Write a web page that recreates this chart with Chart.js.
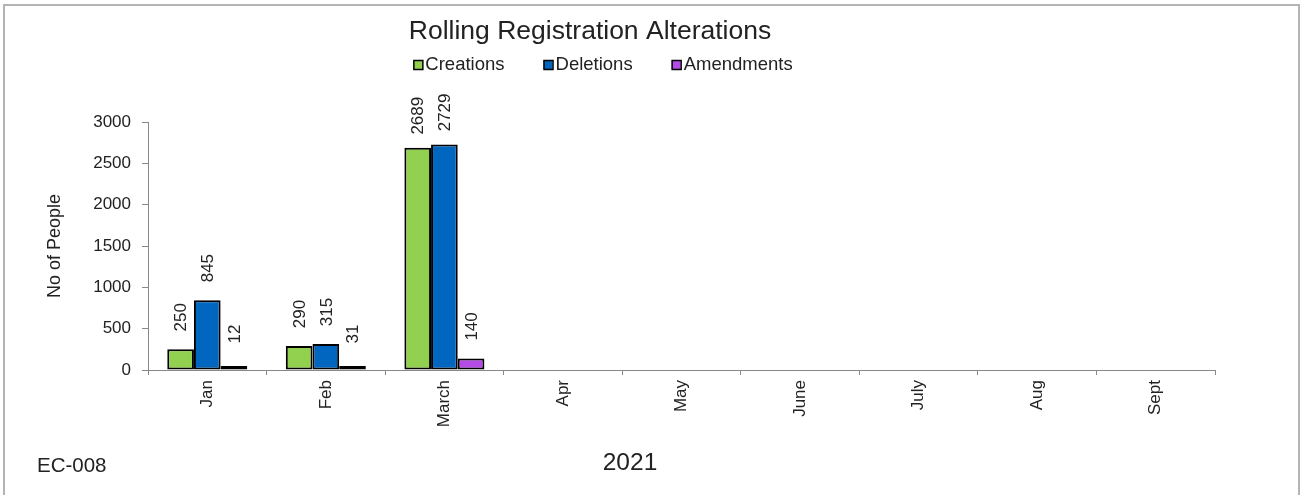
<!DOCTYPE html>
<html>
<head>
<meta charset="utf-8">
<script src="https://cdn.jsdelivr.net/npm/chart.js@4"></script>
<style>
  html, body { margin: 0; padding: 0; background: #fff; }
  #frame { position: absolute; left: 3px; top: 4px; width: 1293px; height: 500px;
           border: 2px solid #b4b4b4; border-bottom: none; }
  #wrap { position: absolute; left: 0; top: 0; width: 1303px; height: 495px; }
</style>
</head>
<body>
<div id="frame"></div>
<div id="wrap"><canvas id="grafico" width="1303" height="495"></canvas></div>
<script>
const meses = ['Jan', 'Feb', 'March', 'Apr', 'May', 'June', 'July', 'Aug', 'Sept'];
const criacoes = [250, 290, 2689, null, null, null, null, null, null];
const exclusoes = [845, 315, 2729, null, null, null, null, null, null];
const alteracoes = [12, 31, 140, null, null, null, null, null, null];
const ticksY = [0, 500, 1000, 1500, 2000, 2500, 3000];

const titulo = 'Rolling Registration Alterations';
const tituloEixoX = '2021';
const rodape = 'EC-008';
const fonte = '"Liberation Sans", Arial, sans-serif';

// rotulos de valor, titulo, legenda e textos soltos
const extras = {
  id: 'extras',
  afterDatasetsDraw(chart) {
    const ctx = chart.ctx;
    ctx.save();
    ctx.fillStyle = '#222';
    ctx.font = '17px ' + fonte;
    ctx.textAlign = 'center';
    ctx.textBaseline = 'middle';
    chart.data.datasets.forEach((ds, i) => {
      chart.getDatasetMeta(i).data.forEach((bar, j) => {
        const v = ds.data[j];
        if (v === null) return;
        ctx.save();
        ctx.translate(bar.x + 1, bar.y - 32);
        ctx.rotate(-Math.PI / 2);
        ctx.fillText(String(v), 0, 0);
        ctx.restore();
      });
    });
    ctx.restore();
  },
  afterDraw(chart) {
    const ctx = chart.ctx;
    ctx.save();
    ctx.fillStyle = '#222';
    ctx.textBaseline = 'middle';
    ctx.textAlign = 'center';
    ctx.font = '26.5px ' + fonte;
    ctx.fillText(titulo, 590, 32);

    // legenda
    ctx.font = '18.5px ' + fonte;
    ctx.textAlign = 'left';
    const itens = chart.data.datasets;
    const larguras = itens.map(d => 12 + ctx.measureText(d.label).width);
    const total = larguras.reduce((a, b) => a + b, 0) + 39 * (itens.length - 1);
    let x = 603 - total / 2;
    itens.forEach((d, i) => {
      ctx.fillStyle = d.backgroundColor;
      ctx.fillRect(x, 60, 9, 9);
      ctx.strokeStyle = '#000';
      ctx.lineWidth = 1.5;
      ctx.strokeRect(x + 0.5, 60.5, 9, 9);
      ctx.fillStyle = '#222';
      ctx.fillText(d.label, x + 12, 65);
      x += larguras[i] + 39;
    });

    ctx.font = '24.5px ' + fonte;
    ctx.textAlign = 'center';
    ctx.fillText(tituloEixoX, 630, 463);
    ctx.font = '20.5px ' + fonte;
    ctx.textAlign = 'left';
    ctx.fillText(rodape, 37, 466);
    ctx.restore();
  }
};

new Chart(document.getElementById('grafico').getContext('2d'), {
  type: 'bar',
  data: {
    labels: meses,
    datasets: [
      { label: 'Creations', data: criacoes, backgroundColor: '#92d050' },
      { label: 'Deletions', data: exclusoes, backgroundColor: '#0066c0' },
      { label: 'Amendments', data: alteracoes, backgroundColor: '#b44be6' }
    ]
  },
  options: {
    responsive: false,
    animation: false,
    layout: { padding: { left: 0, top: 122, right: 88, bottom: 0 } },
    datasets: {
      bar: {
        borderColor: '#000',
        borderWidth: 2,
        borderSkipped: false,
        categoryPercentage: 0.675,
        barPercentage: 1,
        minBarLength: 4
      }
    },
    plugins: {
      legend: { display: false },
      title: { display: false },
      tooltip: { enabled: false }
    },
    scales: {
      x: {
        afterFit: s => { s.height = 125; },
        grid: { drawOnChartArea: false, drawTicks: true, tickLength: 5, color: '#888', offset: true },
        border: { color: '#888', width: 1 },
        ticks: { color: '#222', font: { family: fonte, size: 17 }, minRotation: 90, maxRotation: 90, padding: 5 }
      },
      y: {
        min: 0,
        max: 3000,
        afterFit: s => { s.width = 148; },
        afterBuildTicks: s => { s.ticks = ticksY.map(v => ({ value: v })); },
        grid: { drawOnChartArea: false, drawTicks: true, tickLength: 6, color: '#888' },
        border: { color: '#888', width: 1 },
        ticks: { color: '#222', font: { family: fonte, size: 17 }, padding: 11, callback: v => String(v) },
        title: { display: true, text: 'No of People', color: '#222', font: { family: fonte, size: 18 }, padding: { top: 44, bottom: 0 } }
      }
    }
  },
  plugins: [extras]
});
</script>
</body>
</html>
